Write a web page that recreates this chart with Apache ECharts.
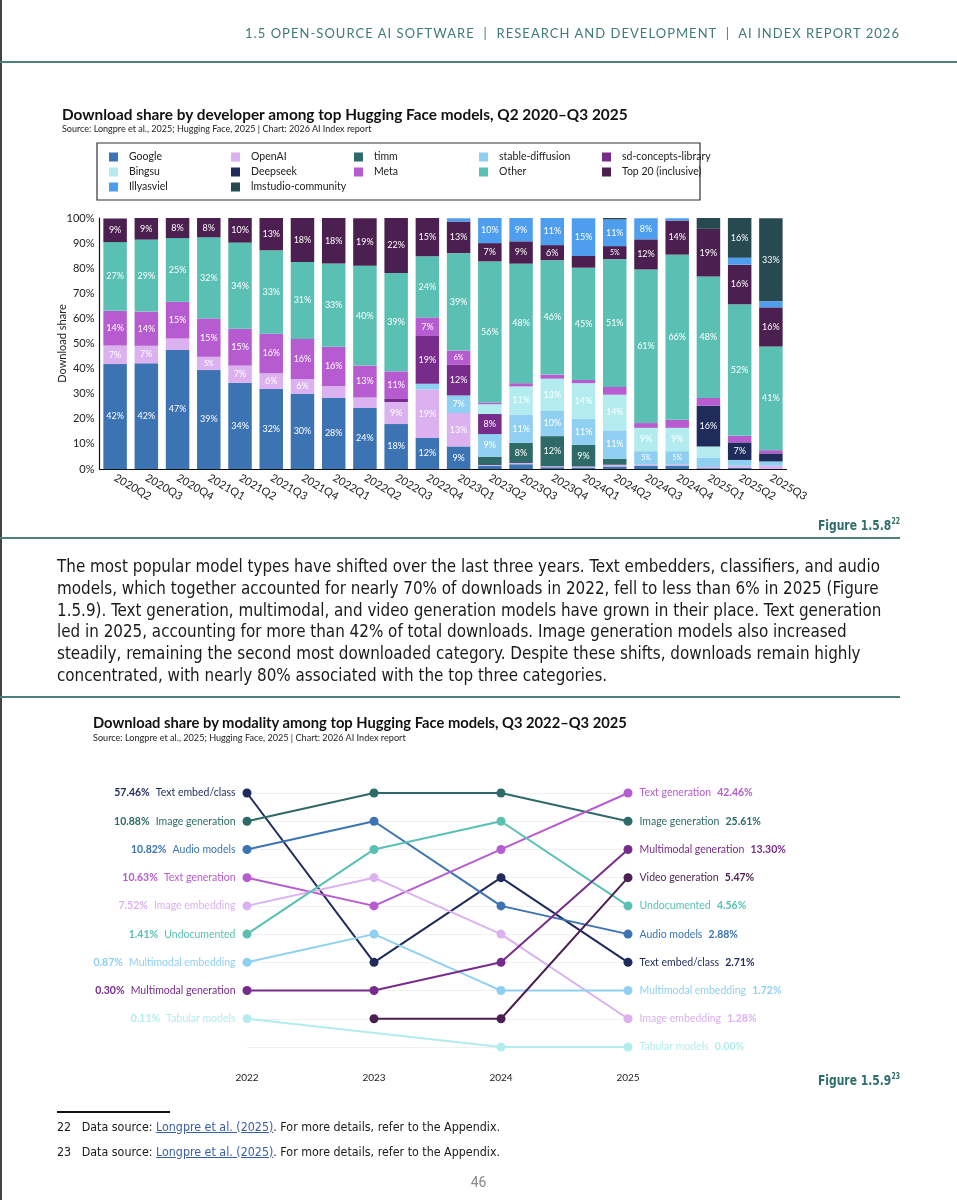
<!DOCTYPE html>
<html>
<head>
<meta charset="utf-8">
<script src="https://cdn.jsdelivr.net/npm/echarts@6/dist/echarts.min.js"></script>
<style>
  html,body{margin:0;padding:0;background:#fff;}
  body{width:957px;height:1200px;position:relative;overflow:hidden;font-family:Lato,"Noto Sans",sans-serif;}
  #chart{position:absolute;left:0;top:0;width:957px;height:1200px;}
  .ov{position:absolute;white-space:nowrap;pointer-events:none;}
  .rule{position:absolute;background:#4a7f7e;}
  .cond{font-family:"Liberation Sans Narrow","DejaVu Sans Condensed",Roboto,"Liberation Sans",sans-serif;}
  .ln{display:block;}
  .ln span{display:inline-block;}
  a{color:#3a5ea6;text-decoration:underline;}
</style>
</head>
<body>
<div id="chart"></div>

<div class="rule" style="left:0;top:0;width:1.5px;height:1200px;background:#444;"></div>
<div class="rule" style="left:0;top:61px;width:957px;height:2px;"></div>
<div id="hdr" class="ov" style="right:57px;top:25px;font-size:13px;line-height:16px;color:#3e7a78;letter-spacing:1.5px;font-family:Lato,Roboto,sans-serif;">1.5 OPEN-SOURCE AI SOFTWARE&nbsp; | &nbsp;RESEARCH AND DEVELOPMENT&nbsp; | &nbsp;AI INDEX REPORT 2026</div>

<div id="t1" class="ov" style="left:62px;top:105px;font-size:15px;line-height:18px;font-weight:bold;color:#111;">Download share by developer among top Hugging Face models, Q2 2020–Q3 2025</div>
<div id="s1" class="ov" style="left:62px;top:122.5px;font-size:9px;line-height:11px;color:#222;">Source: Longpre et al., 2025; Hugging Face, 2025 | Chart: 2026 AI Index report</div>

<div id="f1" class="ov cond" style="right:57px;top:513px;font-size:14px;line-height:18px;font-weight:bold;color:#2f6f6d;transform-origin:right top;">Figure 1.5.8<sup style="font-size:8px;">22</sup></div>
<div class="rule" style="left:0;top:537px;width:900px;height:2px;"></div>

<div id="para" class="ov cond" style="left:57px;top:555px;font-size:18px;line-height:21.8px;color:#1a1a1a;transform-origin:left top;">
<div class="ln"><span id="pl1">The most popular model types have shifted over the last three years. Text embedders, classifiers, and audio</span></div>
<div class="ln"><span>models, which together accounted for nearly 70% of downloads in 2022, fell to less than 6% in 2025 (Figure</span></div>
<div class="ln"><span>1.5.9). Text generation, multimodal, and video generation models have grown in their place. Text generation</span></div>
<div class="ln"><span>led in 2025, accounting for more than 42% of total downloads. Image generation models also increased</span></div>
<div class="ln"><span>steadily, remaining the second most downloaded category. Despite these shifts, downloads remain highly</span></div>
<div class="ln"><span>concentrated, with nearly 80% associated with the top three categories.</span></div>
</div>
<div class="rule" style="left:0;top:696px;width:900px;height:2px;"></div>

<div id="t2" class="ov" style="left:93px;top:713px;font-size:15px;line-height:18px;font-weight:bold;color:#111;">Download share by modality among top Hugging Face models, Q3 2022–Q3 2025</div>
<div id="s2" class="ov" style="left:93px;top:731.5px;font-size:9px;line-height:11px;color:#222;">Source: Longpre et al., 2025; Hugging Face, 2025 | Chart: 2026 AI Index report</div>

<div id="f2" class="ov cond" style="right:57px;top:1068px;font-size:14px;line-height:18px;font-weight:bold;color:#2f6f6d;transform-origin:right top;">Figure 1.5.9<sup style="font-size:8px;">23</sup></div>

<div style="position:absolute;left:57px;top:1111px;width:113px;height:1.5px;background:#111;"></div>
<div id="foot" class="ov cond" style="left:57px;top:1113.5px;font-size:13px;line-height:25px;color:#1a1a1a;transform-origin:left top;">
<div class="ln"><span id="fn1">22&nbsp;&nbsp; Data source: <a>Longpre et al. (2025)</a>. For more details, refer to the Appendix.</span></div>
<div class="ln"><span>23&nbsp;&nbsp; Data source: <a>Longpre et al. (2025)</a>. For more details, refer to the Appendix.</span></div>
</div>
<div class="ov" style="left:0;width:957px;text-align:center;top:1173px;font-size:14px;line-height:18px;color:#888;font-family:Roboto,sans-serif;">46</div>

<script>
// ---------- Figure 1.5.8 data ----------
const quarters = ['2020Q2','2020Q3','2020Q4','2021Q1','2021Q2','2021Q3','2021Q4','2022Q1','2022Q2','2022Q3','2022Q4',
  '2023Q1','2023Q2','2023Q3','2023Q4','2024Q1','2024Q2','2024Q3','2024Q4','2025Q1','2025Q2','2025Q3'];
const yTicks = [0,10,20,30,40,50,60,70,80,90,100];

const googleShare   = [41.8,42.1,47.4,39.4,34.3,31.9,29.9,28.3,24.3,17.9,12.4, 9.0,1.2,1.9,0.7,0.6,1.0,1.2,1.2,0.3,0.5,0];
const openaiShare   = [7.4,7.0,4.6,5.3,6.9,6.2,6.0,4.8,4.2,8.8,19.3, 13.3,0.4,0.5,0.4,0.4,0.7,0.5,0.5,0.5,0.8,1.3];
const timmShare     = [0,0,0,0,0,0,0,0,0,0,0, 0,3.3,8.0,12.0,8.6,2.4,0,0,0,0,0];
const stableShare   = [0,0,0,0,0,0,0,0,0,0,2.3, 7.0,9.0,11.3,10.0,10.5,11.3,5.4,5.4,3.6,2.3,1.7];
const sdConceptShare= [0,0,0,0,0,0,0,0,0,1.2,19.0, 12.2,8.0,0,0,0,0,0,0,0,0,0];
const bingsuShare   = [0,0,0,0,0,0,0,0,0,0,0, 0,3.9,11.2,12.9,14.1,14.2,9.3,9.3,4.6,0,0];
const deepseekShare = [0,0,0,0,0,0,0,0,0,0,0, 0,0,0,0,0,0,0,0,16.2,7.0,3.2];
const metaShare     = [13.8,13.6,14.6,15.3,14.7,15.8,15.9,15.6,12.7,11.0,7.4, 5.7,0.7,1.3,1.6,1.3,3.1,1.9,3.2,3.1,2.6,1.3];
const otherShare    = [27.4,28.7,25.4,32.3,34.3,33.2,30.7,33.2,39.8,39.2,24.4, 38.8,56.2,47.6,45.6,44.7,50.9,61.2,65.8,48.4,52.4,41.3];
const top20Share    = [9.4,8.6,8.0,7.7,9.8,12.9,17.5,18.1,18.9,21.9,15.2, 12.6,7.3,8.9,6.0,4.7,5.2,12.0,13.6,19.0,15.8,15.6];
const illyasShare   = [0,0,0,0,0,0,0,0,0,0,0, 1.3,10.0,9.3,10.8,15.0,10.6,8.4,0.9,0,2.8,2.4];
const lmstudioShare = [0,0,0,0,0,0,0,0,0,0,0, 0,0,0,0,0,0.6,0,0,4.3,15.8,33.1];

const developers = ['Google','OpenAI','timm','stable-diffusion','sd-concepts-library','Bingsu','Deepseek','Meta','Other','Top 20 (inclusive)','Illyasviel','lmstudio-community'];
const devShares = [googleShare,openaiShare,timmShare,stableShare,sdConceptShare,bingsuShare,deepseekShare,metaShare,otherShare,top20Share,illyasShare,lmstudioShare];
const devColors = ['#3b73b3','#dcb1f0','#2e6b68','#8fd0f2','#772c8c','#b3ecee','#1e2b5b','#b65bd0','#5bc0b4','#4b1f4f','#4e9ef0','#264a50'];
const legendColumns = [
  ['Google','Bingsu','Illyasviel'],
  ['OpenAI','Deepseek','lmstudio-community'],
  ['timm','Meta'],
  ['stable-diffusion','Other'],
  ['sd-concepts-library','Top 20 (inclusive)']
];

// ---------- Figure 1.5.9 data ----------
const years = ['2022','2023','2024','2025'];
const modalities = ['Text embed/class','Image generation','Audio models','Text generation','Image embedding','Undocumented','Multimodal embedding','Multimodal generation','Tabular models','Video generation'];
const modalityColors = ['#1e2b5b','#2e6b68','#3b73b3','#b65bd0','#dcb1f0','#5bc0b4','#8fd0f2','#772c8c','#b3ecee','#4b1f4f'];
const rank2022 = [1,2,3,4,5,6,7,8,9,null];
const rank2023 = [7,1,2,5,4,3,6,8,null,9];
const rank2024 = [4,1,5,3,6,2,8,7,10,9];
const rank2025 = [7,2,6,1,9,5,8,3,10,4];
const share2022 = ['57.46%','10.88%','10.82%','10.63%','7.52%','1.41%','0.87%','0.30%','0.11%',null];
const share2025 = ['2.71%','25.61%','2.88%','42.46%','1.28%','4.56%','1.72%','13.30%','0.00%','5.47%'];

const FONT = 'Lato, "Noto Sans", sans-serif';

const chart = echarts.init(document.getElementById('chart'));

const barSeries = developers.map((name, i) => ({
  name, type: 'bar', stack: 'dev', xAxisIndex: 0, yAxisIndex: 0,
  barWidth: 23.5,
  itemStyle: { color: devColors[i] },
  label: {
    show: true, position: 'inside', color: '#fff', fontSize: 9, fontFamily: FONT,
    formatter: p => p.value >= 6 ? Math.round(p.value) + '%' : (p.value >= 5 ? '{s|' + Math.round(p.value) + '%}' : ''),
    rich: { s: { fontSize: 7, color: '#fff', fontFamily: FONT } }
  },
  emphasis: { disabled: true },
  data: devShares[i]
}));

const rankYears = [rank2022, rank2023, rank2024, rank2025];
const bumpSeries = modalities.map((name, i) => {
  const data = rankYears.map((r, j) => {
    const v = r[i];
    if (v == null) return null;
    const item = { value: v };
    if (j === 0 && share2022[i]) {
      item.label = { show: true, position: 'left', distance: 7,
        formatter: '{p|' + share2022[i] + '}  {n|' + name + '}' };
    }
    if (j === 3) {
      item.label = { show: true, position: 'right', distance: 7,
        formatter: '{n|' + name + '}  {p|' + share2025[i] + '}' };
    }
    return item;
  });
  const c = modalityColors[i];
  return {
    name, type: 'line', xAxisIndex: 1, yAxisIndex: 1, connectNulls: true,
    symbol: 'circle', symbolSize: 9, showSymbol: true,
    lineStyle: { width: 2, color: c }, itemStyle: { color: c },
    emphasis: { disabled: true },
    label: { show: false, fontFamily: FONT,
      rich: {
        p: { fontWeight: 'bold', color: c, fontSize: 10.5, fontFamily: FONT },
        n: { color: c, fontSize: 10.5, fontFamily: FONT }
      } },
    data
  };
});

const option = {
  animation: false,
  textStyle: { fontFamily: FONT },
  grid: [
    { left: 99.5, width: 687, top: 218, height: 251, containLabel: false },
    { left: 247, width: 381, top: 793, height: 254, containLabel: false }
  ],
  legend: legendColumns.map((col, i) => ({
    data: col, orient: 'vertical', left: [109, 231, 354, 479, 602][i], top: 151.5, padding: 0,
    icon: 'rect', itemWidth: 9, itemHeight: 9, itemGap: 4, selectedMode: false,
    textStyle: { fontSize: 10.5, color: '#222', fontFamily: FONT, padding: [0, 0, 0, 6] }
  })),
  xAxis: [
    { type: 'category', gridIndex: 0, data: quarters,
      axisLine: { lineStyle: { color: '#111', width: 1.2 } }, axisTick: { show: false },
      axisLabel: { rotate: -30, fontSize: 11, color: '#222', margin: 8, fontFamily: FONT } },
    { type: 'category', gridIndex: 1, data: years, boundaryGap: false,
      axisLine: { show: false }, axisTick: { show: false }, splitLine: { show: false },
      axisLabel: { fontSize: 10, color: '#222', margin: 26, fontFamily: FONT } }
  ],
  yAxis: [
    { type: 'value', gridIndex: 0, min: 0, max: 100, interval: 10,
      name: 'Download share', nameLocation: 'middle', nameGap: 32, nameMoveOverlap: false,
      nameTextStyle: { fontSize: 11, color: '#222', fontFamily: FONT },
      axisLine: { show: true, lineStyle: { color: '#111', width: 1.2 } }, axisTick: { show: false },
      splitLine: { show: false },
      axisLabel: { fontSize: 11, color: '#222', margin: 5, fontFamily: FONT,
        formatter: v => yTicks.includes(v) ? v + '%' : '' } },
    { type: 'value', gridIndex: 1, min: 1, max: 10, interval: 1, inverse: true,
      axisLine: { show: false }, axisTick: { show: false }, axisLabel: { show: false },
      splitLine: { show: true, lineStyle: { color: '#f1f1f1', width: 1 } } }
  ],
  graphic: [
    { type: 'rect', shape: { x: 97, y: 143, width: 603, height: 57 },
      style: { fill: 'none', stroke: '#333', lineWidth: 1.2 }, silent: true }
  ],
  series: barSeries.concat(bumpSeries)
};
chart.setOption(option);

// ---------- text fitting ----------
function fitFont(id, target) {
  const el = document.getElementById(id);
  const w = el.getBoundingClientRect().width;
  const fs = parseFloat(getComputedStyle(el).fontSize);
  el.style.fontSize = (fs * target / w) + 'px';
}
function fitScale(containerId, measureId, target) {
  const w = document.getElementById(measureId).getBoundingClientRect().width;
  document.getElementById(containerId).style.transform = 'scaleX(' + (target / w) + ')';
}
function fitSelfScale(id, target) {
  const el = document.getElementById(id);
  const w = el.getBoundingClientRect().width;
  el.style.transform = 'scaleX(' + (target / w) + ')';
}
fitFont('t1', 566); fitFont('s1', 310);
fitFont('t2', 534); fitFont('s2', 313);
fitScale('para', 'pl1', 823);
fitScale('foot', 'fn1', 443);
fitSelfScale('f1', 82); fitSelfScale('f2', 82);
(function(){
  const el = document.getElementById('hdr');
  const w = el.getBoundingClientRect().width;
  const n = el.textContent.length;
  el.style.letterSpacing = (1.5 + (655 - w) / n) + 'px';
})();
</script>
</body>
</html>
